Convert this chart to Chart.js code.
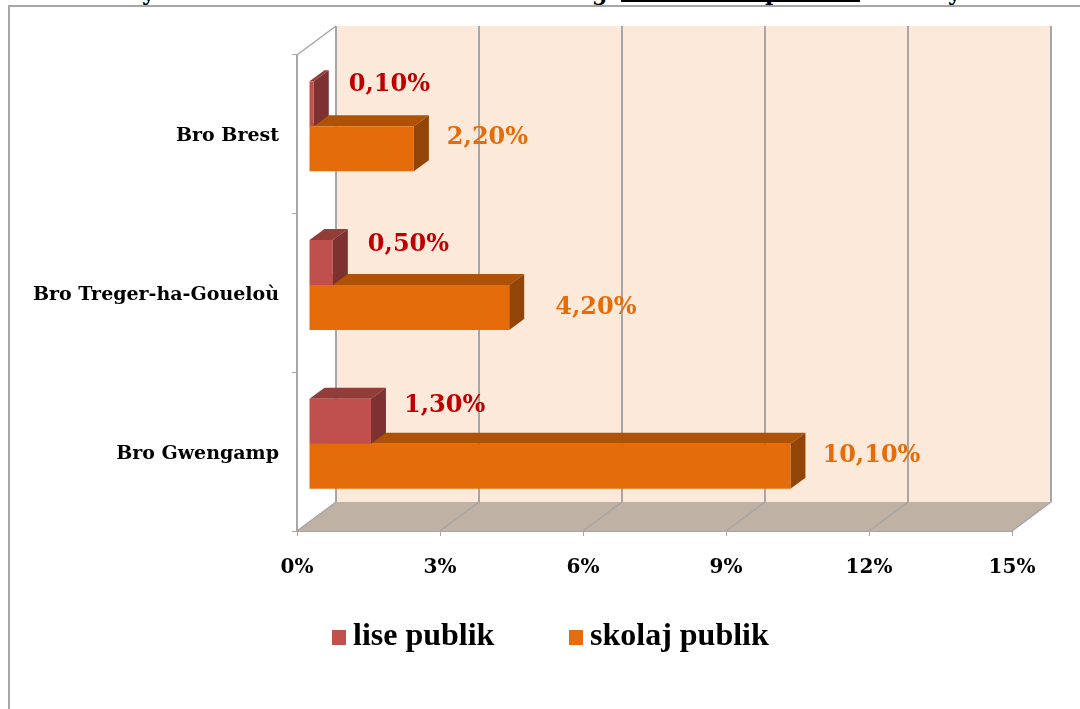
<!DOCTYPE html>
<html>
<head>
<meta charset="utf-8">
<title>lise publik / skolaj publik</title>
<script src="https://cdn.jsdelivr.net/npm/chart.js@4"></script>
<style>
    html, body { margin: 0; padding: 0; background: #fff; overflow: hidden; }
    #wrap { position: relative; width: 1080px; height: 709px; overflow: hidden; }
    #frame { position: absolute; left: 8px; top: 5px; width: 1090px; height: 720px; border: 2px solid #a6a6a6; box-sizing: border-box; }
    #underline { position: absolute; left: 621px; top: 0; width: 239px; height: 2px; background: #000; }
    /* the caption above the chart is cut off by the crop, only its descenders show */
    #caption { position: absolute; left: 0; top: 0; width: 1080px; height: 5px; overflow: hidden; }
    #caption span { position: absolute; top: -20px; font: bold 22px/25px "DejaVu Serif", serif; color: #000; }
    canvas { position: absolute; left: 0; top: 0; }
</style>
</head>
<body>
<div id="wrap">
    <div id="frame"></div>
    <div id="caption">
        <span style="left: 142px">y</span>
        <span style="left: 592px">g</span>
        <span style="left: 765px">p</span>
        <span style="left: 948px">y</span>
    </div>
    <div id="underline"></div>
    <canvas id="chart" width="1080" height="709"></canvas>
</div>
<script>
const categories = ["Bro Brest", "Bro Treger-ha-Goueloù", "Bro Gwengamp"];
const lisePublik = [0.1, 0.5, 1.3];
const skolajPublik = [2.2, 4.2, 10.1];
const seriesNames = ["lise publik", "skolaj publik"];

const SERIF = '"DejaVu Serif", serif';
const GRID = "#a6a6a6";

// 3D look: walls are pushed back, the bars sit part way into that depth
const WALL_DX = 39, WALL_DY = -29;
const BAR_SHIFT_X = 12, BAR_SHIFT_Y = -8;
const BAR_DX = 15, BAR_DY = -11;

const faces = [
    { front: "#c0504d", top: "#933d3b", side: "#7d3130", label: "#c00000" },
    { front: "#e46c0a", top: "#ad5207", side: "#924506", label: "#e46c0a" }
];

// data labels were moved by hand in the original, so each has its own nudge
const labelNudges = [
    [{ x: 35, y: -19 }, { x: 35, y: -18 }, { x: 33, y: -15 }],
    [{ x: 33, y: -11 }, { x: 46, y: 0 }, { x: 32, y: -10 }]
];

function poly(ctx, color, pts) {
    ctx.fillStyle = color;
    ctx.beginPath();
    pts.forEach((p, i) => i ? ctx.lineTo(p[0], p[1]) : ctx.moveTo(p[0], p[1]));
    ctx.closePath();
    ctx.fill();
}

function line(ctx, x1, y1, x2, y2, width) {
    ctx.strokeStyle = GRID;
    ctx.lineWidth = width;
    ctx.beginPath();
    ctx.moveTo(x1, y1);
    ctx.lineTo(x2, y2);
    ctx.stroke();
}

const walls3d = {
    id: "walls3d",
    beforeDatasetsDraw(chart) {
        const { ctx, chartArea: a, scales } = chart;
        ctx.save();
        poly(ctx, "#fde9d9", [[a.left + WALL_DX, a.top + WALL_DY], [a.right + WALL_DX, a.top + WALL_DY],
            [a.right + WALL_DX, a.bottom + WALL_DY], [a.left + WALL_DX, a.bottom + WALL_DY]]);
        poly(ctx, "#bfb1a3", [[a.left, a.bottom], [a.left + WALL_DX, a.bottom + WALL_DY],
            [a.right + WALL_DX, a.bottom + WALL_DY], [a.right, a.bottom]]);
        scales.x.ticks.forEach(t => {
            const x = scales.x.getPixelForValue(t.value);
            line(ctx, x + WALL_DX, a.top + WALL_DY, x + WALL_DX, a.bottom + WALL_DY, 2);
            line(ctx, x, a.bottom, x + WALL_DX, a.bottom + WALL_DY, 1.5);
        });
        line(ctx, a.left, a.top, a.left + WALL_DX, a.top + WALL_DY, 1.5);
        ctx.restore();
    }
};

const bars3d = {
    id: "bars3d",
    beforeDatasetDraw(chart, args) {
        const ctx = chart.ctx;
        const f = faces[args.index];
        ctx.save();
        ctx.translate(BAR_SHIFT_X, BAR_SHIFT_Y);
        args.meta.data.forEach(bar => {
            const top = bar.y - bar.height / 2;
            const bottom = bar.y + bar.height / 2;
            poly(ctx, f.top, [[bar.base, top], [bar.base + BAR_DX, top + BAR_DY],
                [bar.x + BAR_DX, top + BAR_DY], [bar.x, top]]);
            poly(ctx, f.side, [[bar.x, top], [bar.x + BAR_DX, top + BAR_DY],
                [bar.x + BAR_DX, bottom + BAR_DY], [bar.x, bottom]]);
        });
    },
    afterDatasetDraw(chart) {
        chart.ctx.restore();
    },
    afterDatasetsDraw(chart) {
        const ctx = chart.ctx;
        ctx.save();
        ctx.font = "bold 24px " + SERIF;
        ctx.textAlign = "left";
        ctx.textBaseline = "middle";
        chart.data.datasets.forEach((ds, i) => {
            chart.getDatasetMeta(i).data.forEach((bar, j) => {
                const text = ds.data[j].toFixed(2).replace(".", ",") + "%";
                const n = labelNudges[i][j];
                ctx.fillStyle = faces[i].label;
                ctx.fillText(text, bar.x + BAR_SHIFT_X + n.x, bar.y + BAR_SHIFT_Y + n.y);
            });
        });
        ctx.restore();
    }
};

const flatLegend = {
    id: "flatLegend",
    afterDraw(chart) {
        const ctx = chart.ctx;
        const starts = [332, 569];
        ctx.save();
        ctx.font = 'bold 32px "Liberation Serif", serif';
        ctx.textBaseline = "middle";
        chart.data.datasets.forEach((ds, i) => {
            ctx.fillStyle = ds.backgroundColor;
            ctx.fillRect(starts[i], 630, 14, 15);
            ctx.fillStyle = "#000";
            ctx.fillText(ds.label, starts[i] + 21, 637);
        });
        ctx.restore();
    }
};

new Chart(document.getElementById("chart"), {
    type: "bar",
    data: {
        labels: categories,
        datasets: [
            { label: seriesNames[0], data: lisePublik, backgroundColor: faces[0].front, clip: false },
            { label: seriesNames[1], data: skolajPublik, backgroundColor: faces[1].front, clip: false }
        ]
    },
    options: {
        indexAxis: "y",
        responsive: false,
        animation: false,
        layout: { padding: { top: 55, right: 68, bottom: 0, left: 0 } },
        plugins: {
            legend: { display: false },
            tooltip: { enabled: false }
        },
        datasets: {
            bar: { categoryPercentage: 0.567, barPercentage: 1 }
        },
        scales: {
            x: {
                min: 0,
                max: 15,
                afterFit: s => { s.height = 178; },
                border: { color: GRID, width: 2 },
                grid: { drawOnChartArea: false, color: GRID, tickLength: 5, lineWidth: 1 },
                ticks: {
                    stepSize: 3,
                    color: "#000",
                    padding: 20,
                    maxRotation: 0,
                    font: { family: SERIF, size: 20, weight: "bold" },
                    callback: v => v + "%"
                }
            },
            y: {
                afterFit: s => { s.width = 297; },
                border: { color: GRID, width: 2 },
                grid: { offset: true, drawOnChartArea: false, color: GRID, tickLength: 5, lineWidth: 1 },
                ticks: {
                    color: "#000",
                    padding: 13,
                    labelOffset: 2,
                    font: { family: SERIF, size: 19, weight: "bold" }
                }
            }
        }
    },
    plugins: [walls3d, bars3d, flatLegend]
});
</script>
</body>
</html>
